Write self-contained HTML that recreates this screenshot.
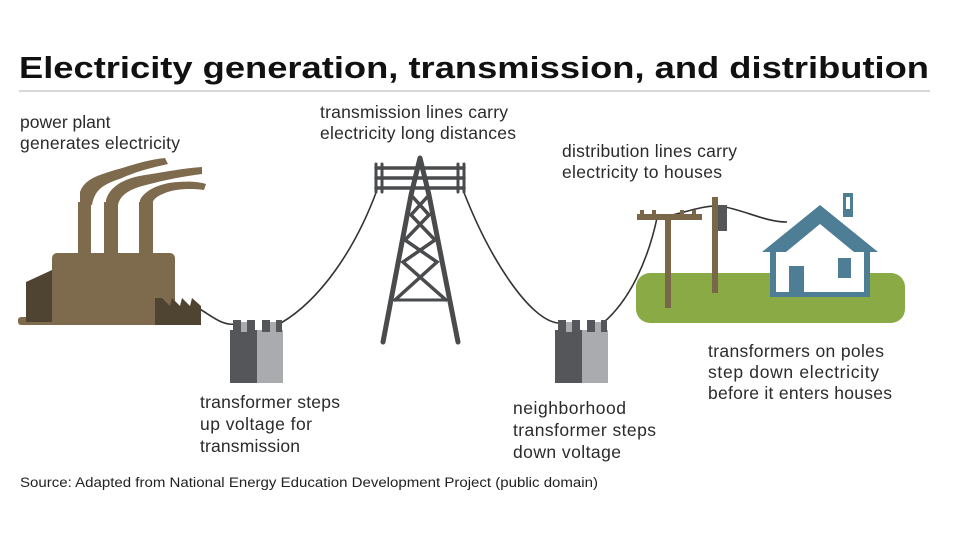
<!DOCTYPE html>
<html><head><meta charset="utf-8"><style>
body{margin:0;background:#fff;}
svg{display:block;font-family:"Liberation Sans",Arial,sans-serif;}
.t{font-size:17.5px;fill:#2a2a2a;}
</style></head><body>
<svg width="960" height="545" viewBox="0 0 960 545" xmlns="http://www.w3.org/2000/svg">
<rect width="960" height="545" fill="#fff"/>
<text x="19" y="78" font-size="31" font-weight="bold" fill="#111" textLength="910" lengthAdjust="spacingAndGlyphs">Electricity generation, transmission, and distribution</text>
<line x1="19" y1="91" x2="930" y2="91" stroke="#ccc" stroke-width="1.5"/>

<g fill="none" stroke="#333" stroke-width="1.6">
<path d="M198,308 C212,316 222,326 236,324"/>
<path d="M281,323 C320,300 355,250 377,190"/>
<path d="M463,190 C490,260 530,320 558,323"/>
<path d="M603,323 C630,300 648,260 657,218"/>
<path d="M657,218 C680,215 700,205 720,206"/>
<path d="M720,206 C745,210 765,222 787,222"/>
</g>

<g fill="#7e6a4c">
<path d="M80,192 C85,178 100,175 115,170 C130,166 145,160 165,158 L168,164 C150,168 135,172 122,178 C105,184 95,188 92,205 L80,205 Z"/>
<path d="M106,200 C110,186 125,178 145,175 C165,172 185,168 202,167 L202,174 C185,176 165,180 150,184 C132,188 120,194 118,205 L106,205Z"/>
<path d="M140,200 C145,190 160,183 178,182 C190,181 200,182 206,184 L204,190 C190,188 175,189 165,193 C155,197 153,200 152,205 L140,205Z"/>
<rect x="78" y="202" width="13" height="55"/>
<rect x="104" y="202" width="14" height="55"/>
<rect x="139" y="202" width="14" height="55"/>
<rect x="52" y="253" width="123" height="70" rx="5"/>
<rect x="18" y="317" width="160" height="8" rx="3"/>
</g>
<path d="M26,282 L52,270 L52,322 L26,322 Z" fill="#4f4432"/>
<path d="M155,298 L162,298 L170,306 L172,298 L180,306 L182,298 L190,306 L192,298 L201,306 L201,325 L155,325 Z" fill="#4f4432"/>

<g>
<rect x="230" y="330" width="27" height="53" fill="#555659"/>
<rect x="257" y="330" width="26" height="53" fill="#a9abae"/>
<rect x="233" y="320" width="8" height="12" fill="#555659"/>
<rect x="241" y="322" width="6" height="10" fill="#a9abae"/>
<rect x="247" y="320" width="8" height="12" fill="#555659"/>
<rect x="262" y="320" width="8" height="12" fill="#555659"/>
<rect x="270" y="322" width="6" height="10" fill="#a9abae"/>
<rect x="276" y="320" width="6" height="12" fill="#555659"/>
</g>
<g transform="translate(325,0)">
<rect x="230" y="330" width="27" height="53" fill="#555659"/>
<rect x="257" y="330" width="26" height="53" fill="#a9abae"/>
<rect x="233" y="320" width="8" height="12" fill="#555659"/>
<rect x="241" y="322" width="6" height="10" fill="#a9abae"/>
<rect x="247" y="320" width="8" height="12" fill="#555659"/>
<rect x="262" y="320" width="8" height="12" fill="#555659"/>
<rect x="270" y="322" width="6" height="10" fill="#a9abae"/>
<rect x="276" y="320" width="6" height="12" fill="#555659"/>
</g>

<g stroke="#4a4b4d" fill="none" stroke-linecap="round">
<path d="M420,158 L411,195 L383,342 M420,158 L429,195 L458,342" stroke-width="5"/>
<path d="M376,168 H464 M376,178 H464 M376,188 H464" stroke-width="3.5"/>
<path d="M376,164 V192 M382,164 V192 M458,164 V192 M464,164 V192" stroke-width="3"/>
<path d="M411,195 L429,215 L405,240 L437,262 L395,300 M429,195 L411,215 L435,240 L403,262 L446,300" stroke-width="3.5"/>
<path d="M395,300 L445,300" stroke-width="3"/>
</g>

<rect x="636" y="273" width="269" height="50" rx="14" fill="#8aaa45"/>
<rect x="637" y="214" width="65" height="6" fill="#7a6648"/>
<rect x="640" y="210" width="4" height="5" fill="#7a6648"/><rect x="652" y="210" width="4" height="5" fill="#7a6648"/><rect x="680" y="210" width="4" height="5" fill="#7a6648"/><rect x="692" y="210" width="4" height="5" fill="#7a6648"/>
<rect x="665" y="214" width="6" height="94" fill="#7a6648"/>
<rect x="712" y="197" width="6" height="96" fill="#7a6648"/>
<rect x="718" y="205" width="9" height="26" fill="#555659"/>

<rect x="843" y="193" width="10" height="24" fill="#4e7d96"/>
<rect x="846" y="197" width="4" height="12" fill="#fff"/>
<path d="M820,205 L762,252 L878,252 Z" fill="#4e7d96"/>
<rect x="770" y="245" width="100" height="52" fill="#4e7d96"/>
<path d="M820,224 L786,252 L854,252 Z" fill="#fff"/>
<rect x="776" y="252" width="88" height="40" fill="#fff"/>
<rect x="789" y="266" width="15" height="30" fill="#4e7d96"/>
<rect x="838" y="258" width="13" height="20" fill="#4e7d96"/>

<g class="t" lengthAdjust="spacingAndGlyphs">
<text class="t" x="20" y="128">power plant</text>
<text class="t" x="20" y="149" textLength="160">generates electricity</text>
<text class="t" x="320" y="118" textLength="188">transmission lines carry</text>
<text class="t" x="320" y="139" textLength="196">electricity long distances</text>
<text class="t" x="562" y="157" textLength="175">distribution lines carry</text>
<text class="t" x="562" y="178" textLength="160">electricity to houses</text>
<text class="t" x="200" y="408" textLength="140">transformer steps</text>
<text class="t" x="200" y="430" textLength="112">up voltage for</text>
<text class="t" x="200" y="452" textLength="100">transmission</text>
<text class="t" x="513" y="414" textLength="113">neighborhood</text>
<text class="t" x="513" y="436" textLength="143">transformer steps</text>
<text class="t" x="513" y="458" textLength="108">down voltage</text>
<text class="t" x="708" y="357" textLength="176">transformers on poles</text>
<text class="t" x="708" y="378" textLength="171">step down electricity</text>
<text class="t" x="708" y="399" textLength="184">before it enters houses</text>
</g>
<text x="20" y="487" font-size="13.5" fill="#222" textLength="578" lengthAdjust="spacingAndGlyphs">Source: Adapted from National Energy Education Development Project (public domain)</text>
</svg>
</body></html>
